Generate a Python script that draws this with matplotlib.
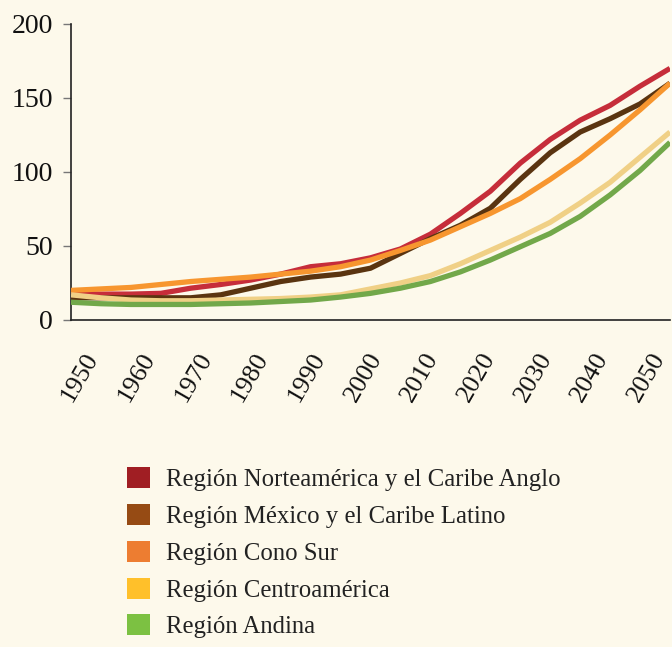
import matplotlib
matplotlib.use("Agg")
import matplotlib.pyplot as plt
from matplotlib.patches import Patch

# ── data (values every 5 years) ─────────────────────────────────────────────
YEARS = list(range(1950, 2051, 5))
TICK_YEARS = list(range(1950, 2051, 10))

NORTEAMERICA = [18, 17.5, 17.5, 18, 21.5, 24, 27, 31, 36, 38, 42, 48, 58, 72, 87, 106, 122, 135, 145, 158, 170]
MEXICO = [15, 15, 15, 15, 15, 17, 21.5, 26, 29, 31, 35, 45, 55, 64, 75.5, 95, 113, 127, 136, 146, 160]
CONO_SUR = [20, 21, 22, 24, 26, 27.5, 29, 31, 33, 36, 40.5, 47, 54, 63, 72, 82, 95, 109, 125, 142, 160]
CENTROAMERICA = [17, 15, 13.5, 13, 13, 13.5, 14, 14.5, 15.5, 17, 21, 25, 30, 38, 47, 56, 66, 79, 93, 110, 127]
ANDINA = [12, 11, 10.5, 10.5, 10.5, 11, 11.5, 12.5, 13.5, 15.5, 18, 21.5, 26, 32.5, 40.5, 49.5, 58.5, 70, 84.5, 101, 120]

SERIES = [
    ("Región Norteamérica y el Caribe Anglo", NORTEAMERICA, "#C62D3A", "#A01E23"),
    ("Región México y el Caribe Latino", MEXICO, "#5A3410", "#964B14"),
    ("Región Cono Sur", CONO_SUR, "#F7962F", "#ED7D31"),
    ("Región Centroamérica", CENTROAMERICA, "#F0D086", "#FFC02A"),
    ("Región Andina", ANDINA, "#72A84A", "#7CC142"),
]

BG = "#FDF9EB"
plt.rcParams["font.family"] = ["Liberation Serif", "DejaVu Serif"]

fig = plt.figure(figsize=(6.72, 6.47), dpi=100, facecolor=BG)
ax = fig.add_axes([71 / 672, 1 - 320 / 647, 599 / 672, 296 / 647])
ax.set_facecolor(BG)

for name, vals, col, _ in SERIES:
    ax.plot(YEARS, vals, color=col, linewidth=3.8, solid_capstyle="butt", zorder=3)

ax.set_xlim(1950, 2050)
ax.set_ylim(0, 200)
ax.set_yticks([0, 50, 100, 150, 200])
ax.tick_params(axis="y", length=6, width=1, color="#777777", labelsize=20, pad=7,
               labelcolor="#111111")
ax.set_xticks([])
for side in ("top", "right"):
    ax.spines[side].set_visible(False)
for side in ("left", "bottom"):
    ax.spines[side].set_color("#222222")
    ax.spines[side].set_linewidth(1.2)

# category-style label axis (labels are spaced a bit tighter than the lines)
lab = ax.twiny()
lab.set_xlim(1948.41, 2054.06)
lab.xaxis.set_ticks_position("bottom")
lab.set_xticks(TICK_YEARS)
lab.set_xticklabels([str(y) for y in TICK_YEARS], rotation=60, ha="center",
                    fontsize=19, color="#111111")
lab.tick_params(axis="x", length=0, pad=21)
for s in lab.spines.values():
    s.set_visible(False)

handles = [Patch(facecolor=lc, edgecolor="none", label=n) for n, _, _, lc in SERIES]
fig.legend(handles=handles, loc="upper left",
           bbox_to_anchor=(127 / 672, 1 - 467 / 647),
           frameon=False, fontsize=17.8, handlelength=0.93, handleheight=0.93,
           handletextpad=0.65, labelspacing=0.52, borderpad=0, borderaxespad=0,
           labelcolor="#222222")

fig.savefig("out.png", dpi=100, facecolor=BG)
